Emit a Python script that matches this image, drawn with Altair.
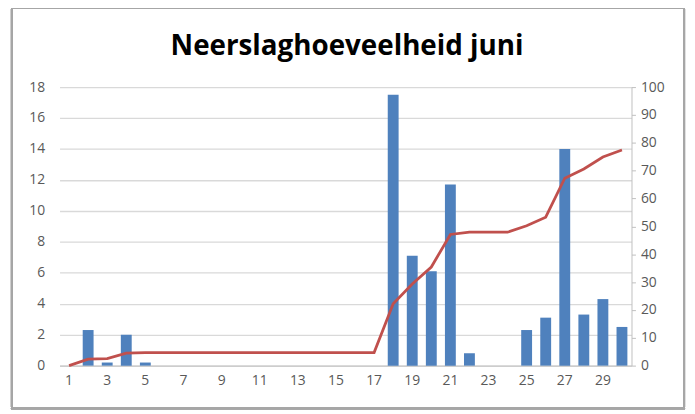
import altair as alt
import pandas as pd

days = list(range(1, 31))
rain = [0, 2.3, 0.2, 2.0, 0.2, 0, 0, 0, 0, 0, 0, 0, 0, 0, 0, 0, 0,
        17.5, 7.1, 6.1, 11.7, 0.8, 0, 0, 2.3, 3.1, 14.0, 3.3, 4.3, 2.5]
cumulative = [0, 2.3, 2.5, 4.5, 4.7, 4.7, 4.7, 4.7, 4.7, 4.7, 4.7, 4.7, 4.7, 4.7, 4.7, 4.7, 4.7,
              22.2, 29.3, 35.4, 47.1, 47.9, 47.9, 47.9, 50.2, 53.3, 67.3, 70.6, 74.9, 77.4]
x_labels = list(range(1, 31, 2))
left_ticks = list(range(0, 19, 2))
right_ticks = list(range(0, 101, 10))
title_text = "Neerslaghoeveelheid juni"

df = pd.DataFrame({"dag": days, "neerslag": rain, "cumulatief": cumulative})

FONT = "Open Sans"
GREY = "#595959"

x_enc = alt.X(
    "dag:O",
    scale=alt.Scale(paddingInner=0.43, paddingOuter=0.215),
    axis=alt.Axis(values=x_labels, title=None, labelAngle=0, ticks=False,
                  domainColor="#BFBFBF", domainWidth=1, labelPadding=8,
                  labelFontSize=14, labelColor=GREY, labelFont=FONT),
)

bars = alt.Chart(df).mark_bar(color="#4F81BD").encode(
    x=x_enc,
    y=alt.Y("neerslag:Q",
            scale=alt.Scale(domain=[0, 18], nice=False),
            axis=alt.Axis(values=left_ticks, title=None, domain=False, ticks=False,
                          grid=True, gridColor="#D9D9D9", gridWidth=1.3,
                          labelPadding=15, labelFontSize=14, labelColor=GREY, labelFont=FONT)),
)

line = alt.Chart(df).mark_line(color="#C0504D", strokeWidth=2.8).encode(
    x=x_enc,
    y=alt.Y("cumulatief:Q",
            scale=alt.Scale(domain=[0, 100], nice=False),
            axis=alt.Axis(orient="right", values=right_ticks, title=None, grid=False,
                          domainColor="#BFBFBF", tickColor="#BFBFBF", tickSize=4,
                          labelPadding=5, labelFontSize=14, labelColor=GREY, labelFont=FONT)),
)

title = alt.Chart(pd.DataFrame({"t": [title_text]})).mark_text(
    font=FONT, fontSize=28, fontWeight="bold", color="#000000",
    align="center", baseline="middle", clip=False,
).encode(text="t:N", x=alt.value(290), y=alt.value(-40))

border = alt.Chart(df).mark_rect(fill=None, stroke="#A6A6A6", strokeWidth=2, clip=False).encode(
    x=alt.value(-48), x2=alt.value(630), y=alt.value(-80), y2=alt.value(324)
)

chart = alt.layer(bars, line, border, title).resolve_scale(y="independent").properties(
    width=577, height=281,
    autosize=alt.AutoSizeParams(type="none"),
    padding={"left": 52, "top": 78, "right": 56, "bottom": 46},
).configure_view(stroke=None)

chart.save("out.html", embed_options={"renderer": "svg", "actions": False})
